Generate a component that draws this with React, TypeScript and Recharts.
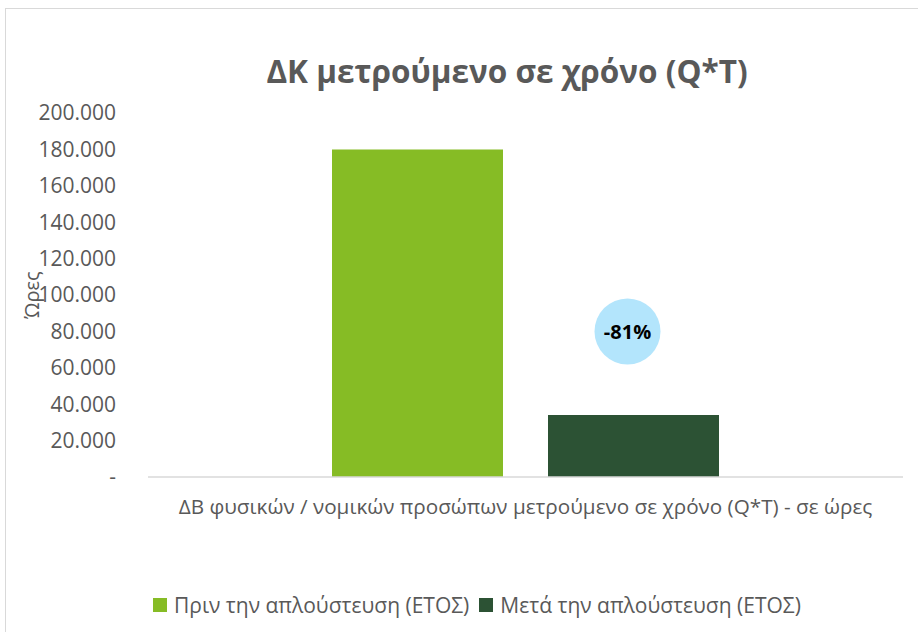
import React from 'react';
import { BarChart, Bar, XAxis, YAxis, LabelList, Label } from 'recharts';

const categories = ['ΔΒ φυσικών / νομικών προσώπων μετρούμενο σε χρόνο (Q*T) - σε ώρες'];
const seriesNames = ['Πριν την απλούστευση (ΕΤΟΣ)', 'Μετά την απλούστευση (ΕΤΟΣ)'];
const beforeValues = [180000];
const afterValues = [34000];
const yTicks = [0, 20000, 40000, 60000, 80000, 100000, 120000, 140000, 160000, 180000, 200000];
const changeLabel = '-81%';
const changeLabelAt = 80000;

const colors = ['#86bc25', '#2c5234'];
const textGrey = '#595959';
const font = '"Open Sans", "Noto Sans", sans-serif';

const data = categories.map((c, i) => ({ name: c, before: beforeValues[i], after: afterValues[i] }));

const fmt = (v: number) => (v === 0 ? '-' : v.toString().replace(/\B(?=(\d{3})+(?!\d))/g, '.'));

// bubble above the second bar, placed with the bar's own pixels-per-unit
function ChangeBubble(props: any) {
  const { x, y, width, height, value } = props;
  const unit = height / value;
  const cx = x + width / 2 - 6;
  const cy = y + height - changeLabelAt * unit;
  return (
    <g>
      <circle cx={cx} cy={cy} r={33} fill="#b3e5fc" />
      <text x={cx} y={cy} textAnchor="middle" dominantBaseline="central" fontFamily={font} fontWeight={700} fontSize={20} fill="#000">
        {changeLabel}
      </text>
    </g>
  );
}

export default function App() {
  return (
    <div style={{ position: 'absolute', left: 0, top: 0, width: 918, height: 632, overflow: 'hidden', background: '#fff' }}>
      <div style={{ position: 'absolute', left: 5, top: 8, width: 1000, height: 700, border: '1px solid #d9d9d9' }} />
      <div style={{ position: 'absolute', left: 0, width: 1014, top: 49, textAlign: 'center', fontFamily: font, fontWeight: 700, fontSize: 31.5, color: textGrey }}>
        ΔΚ μετρούμενο σε χρόνο (Q*T)
      </div>
      <div style={{ position: 'absolute', left: 0, top: 0 }}>
        <BarChart width={918} height={632} data={data} margin={{ top: 113, right: 15, left: 0, bottom: 125 }} barGap={45} barSize={171}>
          <XAxis dataKey="name" height={30} tickLine={false} tickSize={0} tickMargin={22} axisLine={{ stroke: '#d9d9d9', strokeWidth: 1.5 }} tick={{ fill: textGrey, fontSize: 20.7, fontFamily: font }} />
          <YAxis width={148} domain={[0, 200000]} ticks={yTicks} interval={0} tickFormatter={fmt} axisLine={false} tickLine={false} tickSize={0} tickMargin={32} tick={{ fill: textGrey, fontSize: 21, fontFamily: font }}>
            <Label
              content={({ viewBox }: any) => (
                <text x={viewBox.x + 31} y={viewBox.y + viewBox.height / 2} transform={`rotate(-90 ${viewBox.x + 31} ${viewBox.y + viewBox.height / 2})`} textAnchor="middle" dominantBaseline="central" fontFamily={font} fontSize={20} fill={textGrey}>
                  Ώρες
                </text>
              )}
            />
          </YAxis>
          <Bar dataKey="before" name={seriesNames[0]} fill={colors[0]} isAnimationActive={false} />
          <Bar dataKey="after" name={seriesNames[1]} fill={colors[1]} isAnimationActive={false}>
            <LabelList dataKey="after" content={<ChangeBubble />} />
          </Bar>
        </BarChart>
      </div>
      <div style={{ position: 'absolute', left: 153, top: 591, display: 'flex', alignItems: 'center', fontFamily: font, fontSize: 21, color: textGrey, whiteSpace: 'nowrap' }}>
        {seriesNames.map((n, i) => (
          <div key={n} style={{ display: 'flex', alignItems: 'center', marginRight: 10 }}>
            <span style={{ display: 'inline-block', width: 14, height: 14, background: colors[i], marginRight: 7 }} />
            <span>{n}</span>
          </div>
        ))}
      </div>
    </div>
  );
}
